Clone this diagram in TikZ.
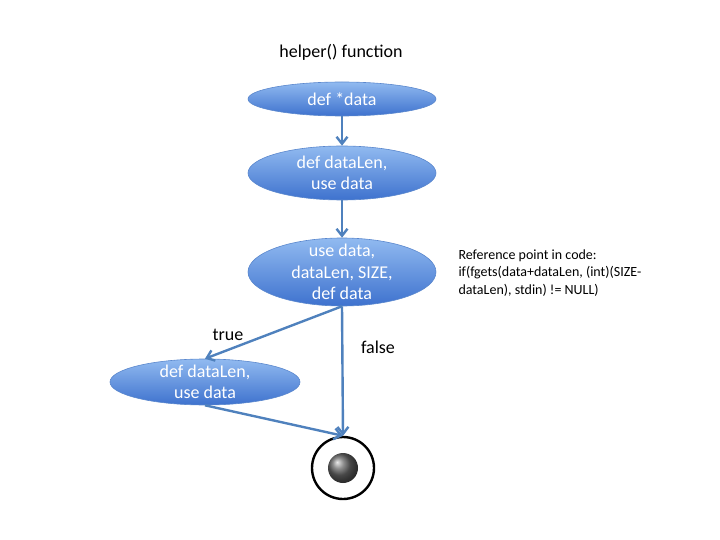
\documentclass[tikz,border=0pt]{standalone}
\usepackage{fontspec}
\setmainfont{Carlito}
\usepackage{tikz}
\usetikzlibrary{shapes.geometric, arrows.meta, positioning}
\definecolor{flowblue}{RGB}{79,129,189}
\definecolor{elltop}{RGB}{145,186,240}
\definecolor{ellbottom}{RGB}{62,114,206}
\definecolor{ellline}{RGB}{90,135,205}

\begin{document}
\begin{tikzpicture}[
    x=1pt, y=-1pt,
    state/.style={ellipse, draw=ellline, line width=0.6pt, top color=elltop, bottom color=ellbottom,
        text=white, align=center, inner xsep=0pt, inner ysep=-12pt, minimum width=188pt,
        font=\fontsize{18}{21.6}\selectfont},
    flow/.style={-{Straight Barb[length=7pt, width=11pt]}, line width=2.4pt, flowblue},
    edgelabel/.style={font=\fontsize{18}{21.6}\selectfont},
    note/.style={font=\fontsize{14}{17.5}\selectfont, align=left, anchor=north west}
]
    \useasboundingbox (0,0) rectangle (720,540);

    % Title
    \node[font=\fontsize{18}{21.6}\selectfont] (title) at (341,52) {helper() function};

    % Nodes
    \node[state, minimum height=34pt] (data) at (342,99) {def *data};
    \node[state, minimum height=54pt] (len) at (342,173) {def dataLen,\\use data};
    \node[state, minimum height=68pt] (cond) at (342,272) {use data,\\dataLen, SIZE,\\def data};
    \node[state, minimum height=46pt, minimum width=190pt] (lenagain) at (205,382) {def dataLen,\\use data};
    \node[circle, draw=black, line width=2.4pt, fill=white, minimum size=62pt, inner sep=0pt] (exit) at (343,468) {};
    \node[circle, shading=ball, ball color=black!60, minimum size=30pt, inner sep=0pt] (exitball) at (exit.center) {};

    % Reference note
    \node[note] (refnote) at (455,246) {Reference point in code:\\if(fgets(data+dataLen, (int)(SIZE-\\dataLen), stdin) != NULL)};

    % Arrows
    \draw[flow] (data) -- (len);
    \draw[flow] (len) -- (cond);
    \draw[flow] (cond.south) -- (lenagain.north);
    \draw[flow] (cond.south) -- (exit.north);
    \draw[flow] (lenagain.south) -- (exit.north);

    % Branch labels
    \node[edgelabel] (truelabel) at (228,335) {true};
    \node[edgelabel] (falselabel) at (378,347) {false};
\end{tikzpicture}
\end{document}
